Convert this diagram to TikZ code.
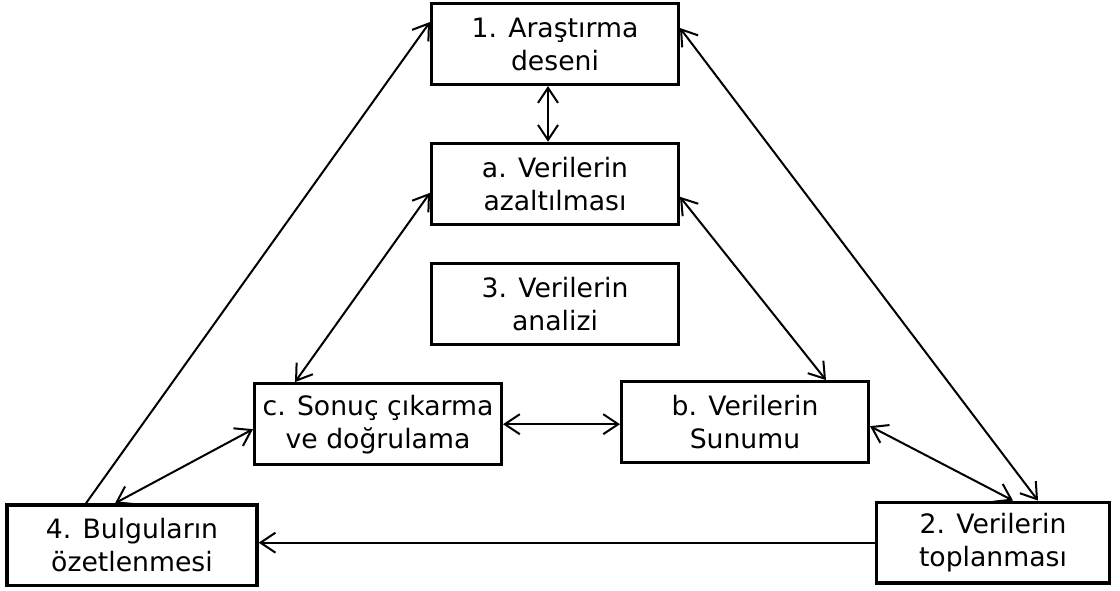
\documentclass[tikz,border=0pt]{standalone}
\usepackage{fontspec}
\setmainfont{DejaVu Sans}
\usetikzlibrary{arrows.meta, positioning}

\begin{document}
\begin{tikzpicture}[
    node distance=33.4pt,
    box/.style={rectangle, draw, line width=2pt, minimum width=#1, minimum height=48.5pt,
                inner sep=2pt, align=center, font=\fontsize{16}{19.8}\selectfont},
    box/.default=148pt,
    arr/.style={-{Straight Barb[length=9pt, width=12pt]}, line width=1.2pt},
    dbl/.style={{Straight Barb[length=9pt, width=12pt]}-{Straight Barb[length=9pt, width=12pt]}, line width=1.2pt}
]
\useasboundingbox (0,0) rectangle (672pt,-354pt);
% Nodes
\node[box] (one) at (333pt,-26.4pt) {1. Araştırma\\deseni};
\node[box, below=33.4pt of one] (azalt) {a. Verilerin\\azaltılması};
\node[box, below=21.6pt of azalt] (analiz) {3. Verilerin\\analizi};
\node[box, below=21.6pt of analiz, xshift=-106.2pt] (sonuc) {c. Sonuç çıkarma\\ve doğrulama};
\node[box, below=20.4pt of analiz, xshift=114pt] (sunum) {b. Verilerin\\Sunumu};
\node[box=150pt, below=22.2pt of sonuc, xshift=-147.6pt] (bulgu) {4. Bulguların\\özetlenmesi};
\node[box=140pt, below=21.8pt of sunum, xshift=148.8pt] (topla) {2. Verilerin\\toplanması};

% Arrows
\draw[arr] ([xshift=-27.6pt]bulgu.north) -- ([yshift=13.2pt]one.west);
\draw[dbl] ([yshift=9.6pt]one.east) -- ([xshift=27pt]topla.north);
\draw[dbl] ([xshift=-4.2pt]one.south) -- ([xshift=-4.2pt]azalt.north);
\draw[dbl] ([yshift=-5.4pt]azalt.west) -- ([xshift=-49.8pt]sonuc.north);
\draw[dbl] ([yshift=-7.8pt]azalt.east) -- ([xshift=48.6pt]sunum.north);
\draw[dbl] (sonuc.east) -- (sonuc.east -| sunum.west);
\draw[dbl] ([xshift=-10.2pt]bulgu.north) -- ([yshift=-3pt]sonuc.west);
\draw[dbl] ([yshift=-2.4pt]sunum.east) -- ([xshift=12pt]topla.north);
\draw[arr] (topla.west) -- (topla.west -| bulgu.east);
\end{tikzpicture}
\end{document}
